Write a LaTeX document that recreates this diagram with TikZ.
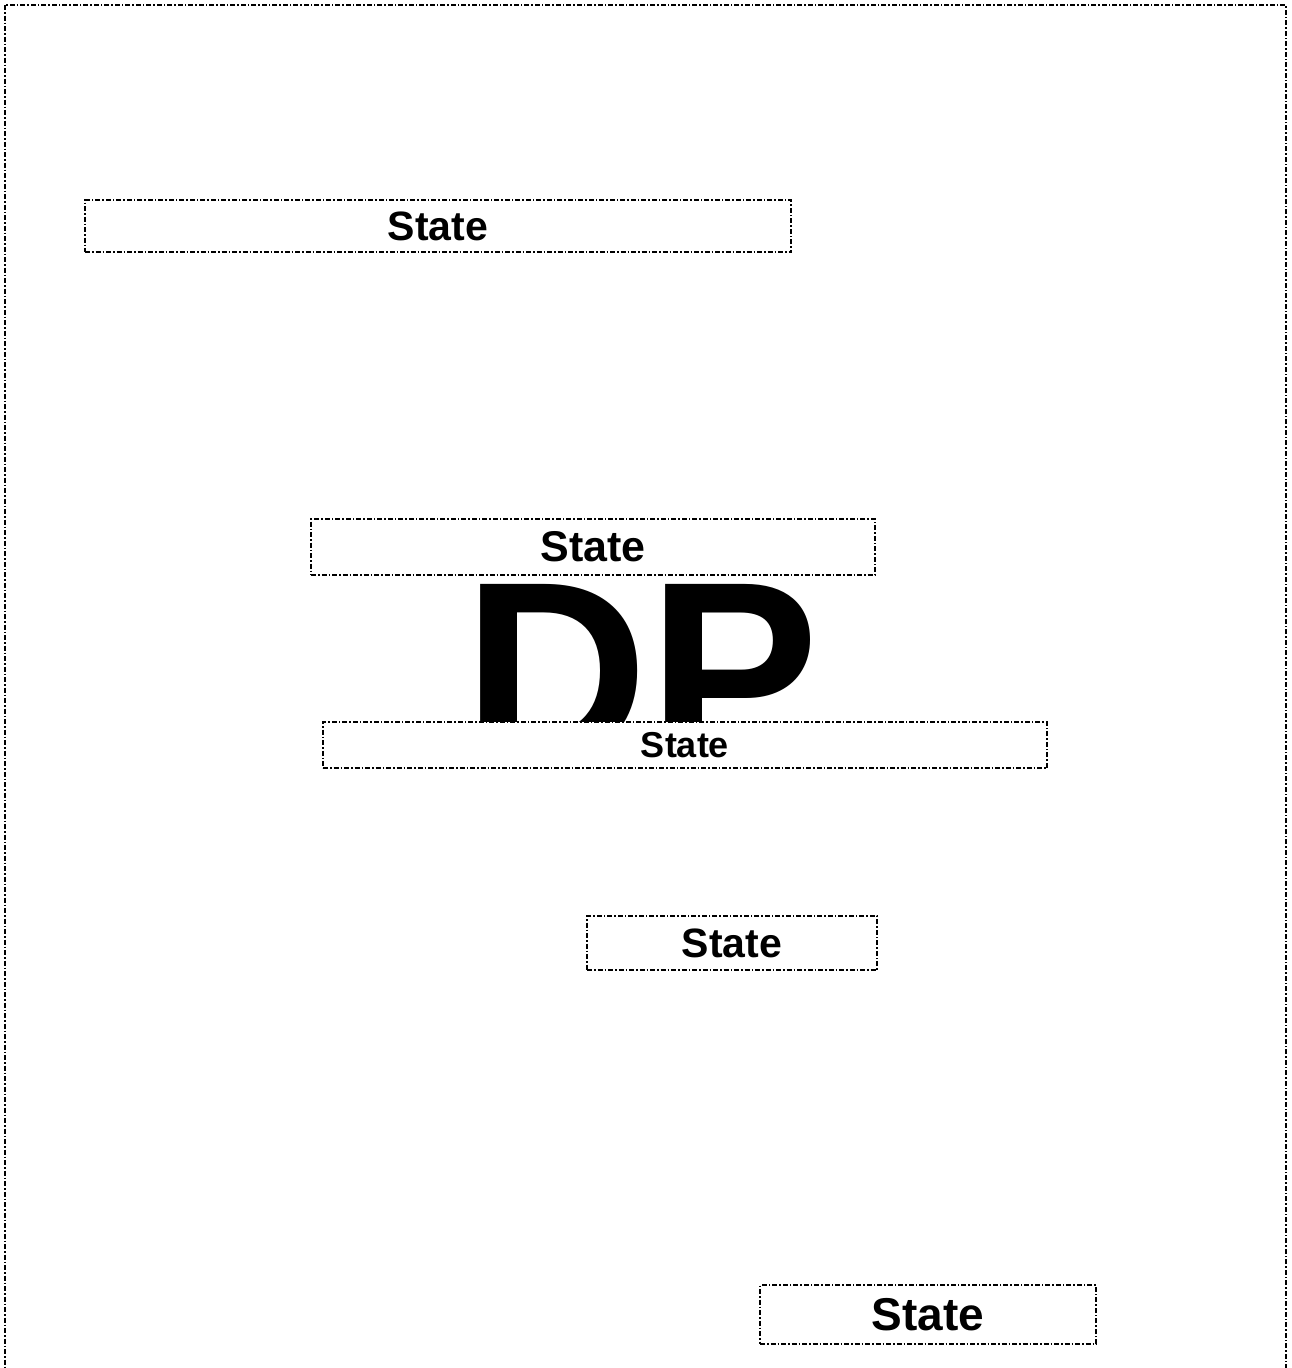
\documentclass[tikz,border=0pt]{standalone}
\usepackage{fontspec}
\setmainfont{Liberation Sans}
\begin{document}
\begin{tikzpicture}[x=1pt,y=-1pt,
  dd/.style={line width=1.5pt,dash pattern=on 5pt off 2pt on 1.5pt off 2pt},
  statebox/.style={dd,draw=black,fill=white,inner sep=0pt,font=\bfseries},
]
\useasboundingbox (0,0) rectangle (1291,1368);
\begin{scope}
\clip (0,0) rectangle (1291,1368);
\draw[dd] (5,5) rectangle (1286,1380);
\end{scope}
% big DP label (partly hidden by the boxes)
\node[anchor=base west,inner sep=0pt,font=\fontsize{256}{256}\bfseries\selectfont] (dp) at (463,760) {DP};
% state boxes
\node[statebox,minimum width=706pt,minimum height=52pt,font=\fontsize{41}{41}\bfseries\selectfont] (s1) at (438,226) {State};
\node[statebox,minimum width=564pt,minimum height=56pt,font=\fontsize{43}{43}\bfseries\selectfont] (s2) at (593,547) {State};
\node[statebox,minimum width=724pt,minimum height=46pt,font=\fontsize{36}{36}\bfseries\selectfont] (s3) at (685,745) {State};
\node[statebox,minimum width=290pt,minimum height=54pt,font=\fontsize{41}{41}\bfseries\selectfont] (s4) at (732,943) {State};
\node[statebox,minimum width=336pt,minimum height=59pt,font=\fontsize{46}{46}\bfseries\selectfont] (s5) at (928,1314.5) {State};
\end{tikzpicture}
\end{document}
